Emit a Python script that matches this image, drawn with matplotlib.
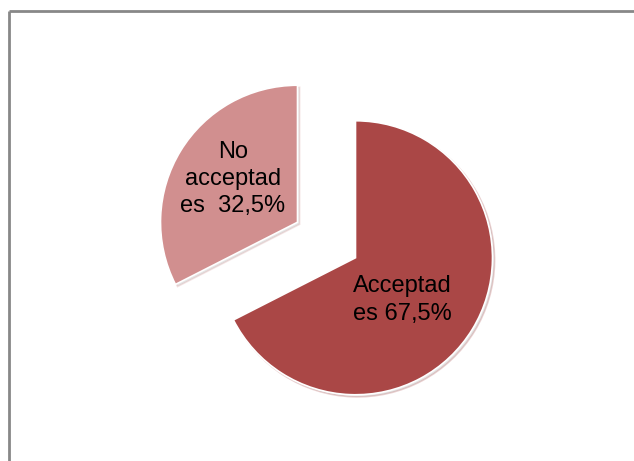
import matplotlib.pyplot as plt

# datos del gráfico
labels = ['Acceptad\nes 67,5%', 'No\nacceptad\nes  32,5%']
values = [67.5, 32.5]
colors = ['#AA4746', '#D18F8F']

W, H = 634, 461

plt.rcParams['font.family'] = ['Liberation Sans', 'DejaVu Sans']

fig = plt.figure(figsize=(W / 100, H / 100), dpi=100)
ax = fig.add_axes([0, 0, 1, 1])

# tarta separada, en unidades de pixel
cx, cy = 326.5, H - 240
r = 137
wedges, _ = ax.pie(values, colors=colors, startangle=90, counterclock=False,
                   center=(cx, cy), radius=r, explode=[34, 34],
                   wedgeprops=dict(edgecolor='white', linewidth=1.2),
                   shadow={'ox': 1.5, 'oy': -1.5, 'shade': 0.0, 'alpha': 0.25,
                           'facecolor': '#999999'})

# etiquetas dentro de cada porción
ax.text(402, H - 300, labels[0], ha='center', va='center', fontsize=17,
        linespacing=1.3, color='black')
ax.text(233, H - 179, labels[1], ha='center', va='center', fontsize=17,
        linespacing=1.3, color='black')

# marco del gráfico (sólo arriba e izquierda visibles)
ax.plot([9, W], [H - 11, H - 11], color='#888888', lw=2, solid_capstyle='butt')
ax.plot([9, 9], [0, H - 11], color='#888888', lw=2, solid_capstyle='butt')

ax.set_xlim(0, W)
ax.set_ylim(0, H)
ax.set_aspect('auto')
ax.axis('off')

fig.savefig('out.png', dpi=100, facecolor='white')
